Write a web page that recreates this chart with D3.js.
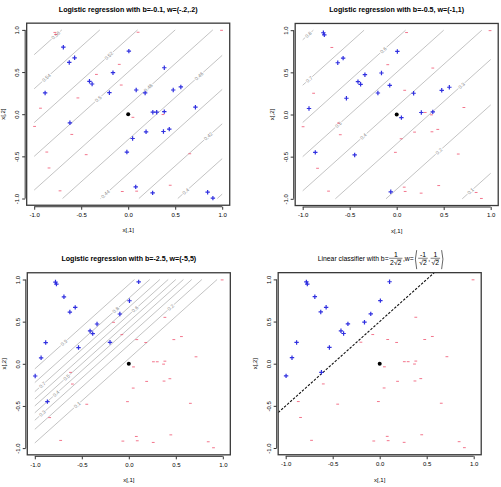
<html>
<script src="https://d3js.org/d3.v7.min.js"></script>
<style>
  body {margin: 0; background: #fff;}
  text {font-family: 'Liberation Sans', Arial, sans-serif;}
</style>
<body>
<svg width=501 height=487></svg>
<script>
// sample points (same positions in every panel)
const x1 = [-0.78, -0.77, -0.69, -0.627, -0.57, -0.884, -0.933, -0.996, -0.535, -0.412, -0.384, -0.338, -0.162, -0.095, 0.007, 0.105, -0.62,
            0.993, 0.384, -0.074, 0.085, 0.18, 0.479, 0.56, 0.715, -0.2, 0.05, 0.262, 0.303, 0.384, 0.37, -0.6, 0.047, 0.19, 0.375, 0.437,
            -0.866, -0.447, -0.014, 0.655, -0.842, -0.725, -0.063, 0.08, 0.09, 0.26, 0.447, 0.845, 0.901];
const x2 = [0.97, 0.945, 0.795, 0.614, 0.669, 0.252, 0.071, -0.145, 0.193, 0.39, 0.358, 0.472, 0.492, 0.591, 0.748, 0.972, -0.102,
            0.995, 0.551, 0.346, 0.287, 0.252, 0.287, 0.323, 0.083, 0.255, -0.037, 0.024, 0.024, 0.031, -0.004, -0.24, -0.288, -0.209, -0.205, -0.177,
            -0.449, -0.48, -0.449, -0.469, -0.638, -0.909, -0.917, -0.862, -0.913, -0.933, -0.843, -0.925, -0.996];

// labels for each panel: 1 = "+", 0 = "-"
const y1 = [0,0,1,1,1,1,0,0,0,1,1,0,1,0,1,0,1, 0,1,0,1,1,1,1,1,1,0,1,1,1,0,0,1,1,1,1, 0,0,1,0,0,0,0,1,0,1,0,1,1];
const y2 = [1,1,0,1,1,0,1,0,1,1,1,1,1,0,1,0,0, 0,0,1,0,1,1,1,0,1,1,1,0,1,0,0,0,0,0,0, 1,1,0,0,0,0,1,0,0,0,0,0,0];
const y3 = [1,1,1,1,1,1,1,1,1,1,1,1,0,1,1,1,0, 0,0,0,0,0,0,0,0,1,0,0,0,0,0,0,0,0,0,0, 1,0,0,0,0,0,0,0,0,0,0,0,0];
const y4 = [1,1,1,1,1,1,1,1,1,1,1,1,1,1,1,1,1, 0,0,0,0,0,0,0,0,0,0,0,0,0,0,0,0,0,0,0, 0,0,0,0,0,0,0,0,0,0,0,0,0];

const ticks = [-1, -0.5, 0, 0.5, 1];
const levels1 = [0.56, 0.54, 0.52, 0.50, 0.48, 0.46, 0.44, 0.42, 0.40, 0.38];
const levels2 = [0.8, 0.7, 0.6, 0.5, 0.4, 0.3, 0.2, 0.1];
const levels3 = [0.9, 0.8, 0.7, 0.6, 0.5, 0.4, 0.3, 0.2, 0.1];

const panels = [
  {title: 'Logistic regression with b=-0.1, w=(-.2,.2)', b: -0.1, w: [-0.2, 0.2], levels: levels1, lab: y1, cx: 128.2, cy: 114.2,
   labelAt: [-0.77, -0.87, -0.206, -0.319, 0.213, 0.753, -0.242, 0.852, 0.612, null]},
  {title: 'Logistic regression with b=-0.5, w=(-1,1)', b: -0.5, w: [-1, 1], levels: levels2, lab: y2, cx: 396.7, cy: 114.5,
   labelAt: [-0.94, -0.93, -0.142, -0.62, -0.355, 0.69, 0.45, 0.787]},
  {title: 'Logistic regression with b=-2.5, w=(-5,5)', b: -2.5, w: [-5, 5], levels: levels3, lab: y3, cx: 128.8, cy: 363.8,
   labelAt: [-0.689, -0.139, -0.92, 0.066, -0.661, -0.774, -0.92, 0.446, -0.548]},
  {title: null, line: 0.5, lab: y4, cx: 379.7, cy: 363.7}
];

const svg = d3.select('svg');
const sx = 94, sy = 84.3, lim = 1.08;
const ang = -Math.atan(sy / sx) * 180 / Math.PI;

panels.forEach(function(p) {
  const x = d3.scaleLinear().domain([-lim, lim]).range([p.cx - lim * sx, p.cx + lim * sx]);
  const y = d3.scaleLinear().domain([-lim, lim]).range([p.cy + lim * sy, p.cy - lim * sy]);
  const g = svg.append('g');
  const top = y(lim), bottom = y(-lim), left = x(-lim), right = x(lim);

  // contour lines of the logistic probability
  if (p.levels) {
    p.levels.forEach(function(lv, i) {
      const d = (Math.log(lv / (1 - lv)) - p.b) / p.w[1];
      const a = Math.max(-1, -1 - d), e = Math.min(1, 1 - d);
      if (a >= e) return;
      g.append('line')
        .attr('x1', x(a)).attr('y1', y(a + d)).attr('x2', x(e)).attr('y2', y(e + d))
        .attr('stroke', '#b8b8b8').attr('stroke-width', 0.85);
      const at = p.labelAt[i];
      if (at == null) return;
      g.append('text')
        .attr('transform', 'translate(' + x(at) + ',' + y(at + d) + ') rotate(' + ang + ')')
        .attr('text-anchor', 'middle').attr('dy', '0.35em')
        .attr('font-size', 5).attr('fill', '#8a8a8a')
        .attr('stroke', '#fff').attr('stroke-width', 2.2).attr('paint-order', 'stroke')
        .text(String(lv));
    });
  }

  // decision line (dashed)
  if (p.line != null) {
    g.append('line')
      .attr('x1', x(-lim)).attr('y1', y(-lim + p.line))
      .attr('x2', x(lim - p.line)).attr('y2', y(lim))
      .attr('stroke', '#111').attr('stroke-width', 1.1).attr('stroke-dasharray', '2.5,1.5');
  }

  // points
  x1.forEach(function(v, i) {
    const px = x(v), py = y(x2[i]);
    if (p.lab[i]) {
      g.append('path').attr('d', 'M' + (px - 2.2) + ',' + py + 'h4.4M' + px + ',' + (py - 2.2) + 'v4.4')
        .attr('stroke', '#3030e0').attr('stroke-width', 1.2);
    } else {
      g.append('path').attr('d', 'M' + (px - 1.4) + ',' + py + 'h2.8')
        .attr('stroke', '#ee3a5a').attr('stroke-width', 0.7);
    }
  });
  g.append('circle').attr('cx', x(0)).attr('cy', y(0)).attr('r', 2).attr('fill', '#000');

  // box
  g.append('rect').attr('x', left).attr('y', top).attr('width', right - left).attr('height', bottom - top)
    .attr('fill', 'none').attr('stroke', '#3a3a3a').attr('stroke-width', 1.3);

  // axes
  const ax = g.append('g').attr('transform', 'translate(0,' + (bottom + 1.5) + ')')
    .call(d3.axisBottom(x).tickValues(ticks).tickFormat(d => d.toFixed(1)).tickSize(3).tickPadding(3));
  ax.select('.domain').attr('d', 'M' + x(-1) + ',0H' + x(1));
  ax.attr('font-size', 6).attr('font-family', null);
  ax.selectAll('line, path').attr('stroke', '#333');

  const ay = g.append('g').attr('transform', 'translate(' + (left - 1.5) + ',0)')
    .call(d3.axisLeft(y).tickValues(ticks).tickFormat(d => d.toFixed(1)).tickSize(3));
  ay.select('.domain').attr('d', 'M0,' + y(-1) + 'V' + y(1));
  ay.attr('font-size', 6).attr('font-family', null);
  ay.selectAll('line, path').attr('stroke', '#333');
  ay.selectAll('text').attr('transform', 'rotate(-90)').attr('text-anchor', 'middle')
    .attr('x', 0).attr('y', -8).attr('dy', '0.35em');

  g.append('text').attr('x', p.cx).attr('y', bottom + 25).attr('dy', '0.35em')
    .attr('text-anchor', 'middle').attr('font-size', 6).text('x[,1]');
  g.append('text').attr('transform', 'translate(' + (left - 23.5) + ',' + p.cy + ') rotate(-90)').attr('dy', '0.35em')
    .attr('text-anchor', 'middle').attr('font-size', 6).text('x[,2]');

  if (p.title) {
    g.append('text').attr('x', p.cx).attr('y', top - 14).attr('dy', '0.35em')
      .attr('text-anchor', 'middle').attr('font-size', 7.1).attr('font-weight', 'bold').text(p.title);
  } else {
    mathTitle(g, p.cx + 1.5, top - 14);
  }
});

// plotmath-like title for the linear classifier panel
function mathTitle(g, cx, cy) {
  const fs = 6.8;
  const items = [
    {t: 'text', s: 'Linear classifier with b='},
    {t: 'frac', n: '1', d: '2√2'},
    {t: 'text', s: ',w='},
    {t: 'lp'},
    {t: 'frac', n: '-1', d: '√2'},
    {t: 'text', s: ','},
    {t: 'frac', n: '1', d: '√2'},
    {t: 'rp'}
  ];
  const tmp = g.append('text').attr('font-size', fs);
  const w = s => { tmp.text(s); return tmp.node().getComputedTextLength(); };
  items.forEach(it => {
    if (it.t == 'text') it.w = w(it.s);
    else if (it.t == 'frac') it.w = Math.max(w(it.n), w(it.d)) + 3;
    else it.w = 4;
  });
  const total = d3.sum(items, it => it.w);
  let xx = cx - total / 2;
  const base = cy + 2.4, bar = cy - 0.4;
  items.forEach(it => {
    if (it.t == 'text') {
      g.append('text').attr('x', xx).attr('y', base).attr('font-size', fs).text(it.s);
    } else if (it.t == 'frac') {
      const mid = xx + it.w / 2;
      g.append('text').attr('x', mid).attr('y', bar - 1.6).attr('text-anchor', 'middle').attr('font-size', fs).text(it.n);
      g.append('text').attr('x', mid).attr('y', bar + 6.6).attr('text-anchor', 'middle').attr('font-size', fs).text(it.d);
      g.append('line').attr('x1', xx + 0.5).attr('x2', xx + it.w - 0.5).attr('y1', bar).attr('y2', bar)
        .attr('stroke', '#000').attr('stroke-width', 0.5);
      // overbar of the radical
      const k = it.d.indexOf('√');
      const dw = w(it.d);
      const s0 = mid - dw / 2 + w(it.d.slice(0, k + 1)) - 0.3;
      g.append('line').attr('x1', s0).attr('x2', mid + dw / 2).attr('y1', bar + 1.6).attr('y2', bar + 1.6)
        .attr('stroke', '#000').attr('stroke-width', 0.45);
    } else if (it.t == 'lp') {
      g.append('path').attr('d', 'M' + (xx + 3) + ',' + (cy - 8.5) + 'Q' + (xx + 0.4) + ',' + cy + ' ' + (xx + 3) + ',' + (cy + 10.5))
        .attr('fill', 'none').attr('stroke', '#000').attr('stroke-width', 0.6);
    } else {
      g.append('path').attr('d', 'M' + (xx + 1) + ',' + (cy - 8.5) + 'Q' + (xx + 3.6) + ',' + cy + ' ' + (xx + 1) + ',' + (cy + 10.5))
        .attr('fill', 'none').attr('stroke', '#000').attr('stroke-width', 0.6);
    }
    xx += it.w;
  });
  tmp.remove();
}
</script>
</body>
</html>
